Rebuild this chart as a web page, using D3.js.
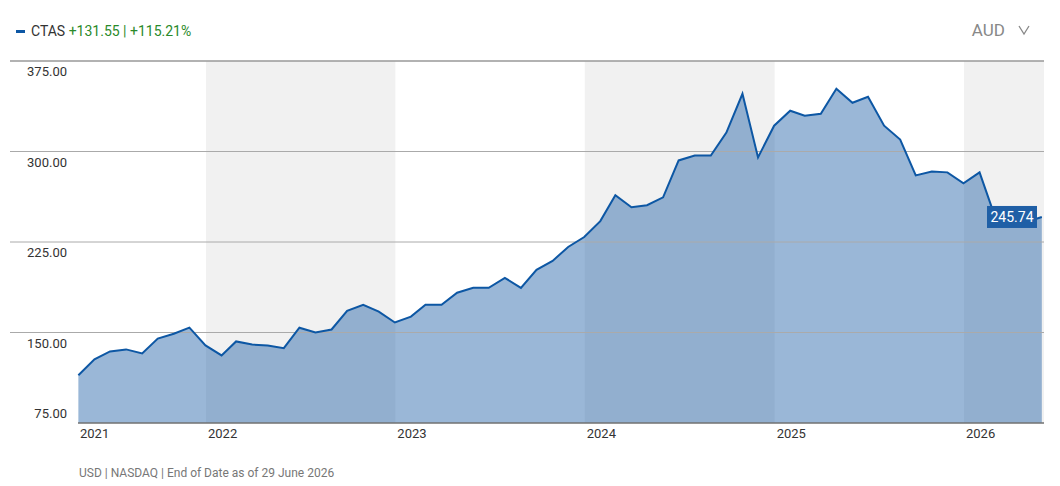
<!DOCTYPE html>
<html><head><meta charset="utf-8">
<script src="https://cdn.jsdelivr.net/npm/d3@7"></script>
<style>body{margin:0;background:#fff;font-family:"Liberation Sans Narrow",Roboto,sans-serif}</style>
</head><body><svg id="c" width="1060" height="486"></svg>
<script>
const startMonth = "2021-05";
const values = [114.6,127.7,134.3,136,132.7,145,149,154,139.3,131,142.6,140,139.3,137,154,150,152.5,168,173,167.3,158.3,163.2,173,173,183,187,187,195.3,187,202,209.3,220.9,229.1,242.3,263.7,253.8,255.5,262,292.6,296.7,296.7,315.7,347.8,295.1,321.4,333.8,329.7,331.3,352,340.4,345.3,321.4,309.9,280.2,283.5,282.7,273.6,282.7,248.1,244.8,241.5,245.74];
const yTicks = [75,150,225,300,375];
const yearTicks = [2021,2022,2023,2024,2025,2026];
const bandYears = [2022,2024,2026];
const lastValue = "245.74";

const svg = d3.select("#c");
const L=78,R=1044,T=61,B=423;
const d0 = d3.timeParse("%Y-%m")(startMonth);
const data = values.map((v,i)=>({d:d3.timeDay.offset(d3.timeMonth.offset(d0,i),-1),v}));
const x = d3.scaleTime().domain([new Date(2022,0,1),new Date(2026,0,1)]).range([206,964]);
const y = d3.scaleLinear().domain([75,375]).range([B,T]);
const xr = d=>Math.min(R,Math.max(L,x(d)));

bandYears.forEach(yr=>{
  const a=x(new Date(yr,0,1)), b=Math.min(R,x(new Date(yr+1,0,1)));
  svg.append("rect").attr("x",a).attr("y",T).attr("width",b-a).attr("height",B-T).attr("fill","#f1f1f1");
});
svg.append("path").datum(data).attr("fill","#1f5fa6").attr("fill-opacity",0.45)
  .attr("d",d3.area().x(d=>xr(d.d)).y0(B).y1(d=>y(d.v)));
yTicks.forEach(t=>{
  svg.append("line").attr("x1",t===75?L:10).attr("x2",R).attr("y1",y(t)).attr("y2",y(t))
    .attr("stroke",t===375?"#999":"#aaa").attr("stroke-width",t===375?1.5:1);
  svg.append("text").attr("x",67).attr("y",y(t)+(t===75?-5:15)).attr("text-anchor","end")
    .attr("font-size",13).attr("fill","#333").text(t.toFixed(2));
});
svg.append("path").datum(data).attr("fill","none").attr("stroke","#0d57a4").attr("stroke-width",2)
  .attr("d",d3.line().x(d=>xr(d.d)).y(d=>y(d.v)));
svg.append("line").attr("x1",L).attr("x2",R).attr("y1",B).attr("y2",B).attr("stroke","#555");
yearTicks.forEach(yr=>{
  const xx = yr===2021?L:x(new Date(yr,0,1));
  svg.append("text").attr("x",xx+2).attr("y",438).attr("font-size",13).attr("fill","#333").text(yr);
});
const lx=R-57, ly=y(values[values.length-1]);
svg.append("rect").attr("x",lx).attr("y",ly-11).attr("width",50).attr("height",22).attr("fill","#1f5fa6");
svg.append("text").attr("x",lx+25).attr("y",ly+5).attr("text-anchor","middle").attr("font-size",14).attr("fill","#fff").text(lastValue);

svg.append("rect").attr("x",16).attr("y",30).attr("width",9).attr("height",3).attr("fill","#0d57a4");
const h=svg.append("text").attr("x",31).attr("y",36).attr("font-size",14);
h.append("tspan").attr("fill","#333").text("CTAS ");
h.append("tspan").attr("fill","#2a8a2a").text("+131.55 | +115.21%");
svg.append("text").attr("x",1005).attr("y",36).attr("text-anchor","end").attr("font-size",17).attr("fill","#888").text("AUD");
svg.append("path").attr("d","M1019,26 L1024,34 L1029,26").attr("fill","none").attr("stroke","#888").attr("stroke-width",1.3);
svg.append("text").attr("x",79).attr("y",477).attr("font-size",12).attr("fill","#777").text("USD | NASDAQ | End of Date as of 29 June 2026");
</script></body></html>
